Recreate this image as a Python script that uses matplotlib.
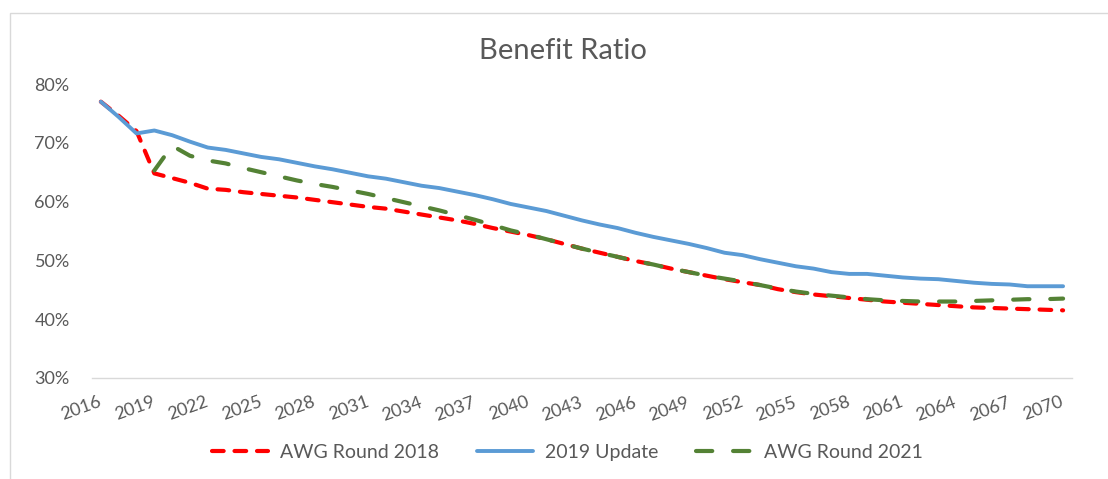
import numpy as np
import matplotlib
matplotlib.use("Agg")
import matplotlib.pyplot as plt
from matplotlib.patches import Rectangle

plt.rcParams['font.family'] = ['Lato', 'DejaVu Sans']

years = list(range(2016, 2071))

# benefit ratio, %
awg_2018 = [77.0, 74.6, 72.0, 64.8, 64.0, 63.2, 62.2, 62.0, 61.6, 61.3,
            61.0, 60.7, 60.3, 59.9, 59.5, 59.1, 58.8, 58.3, 57.8, 57.3,
            56.8, 56.2, 55.5, 54.9, 54.3, 53.6, 52.8, 52.0, 51.3, 50.6,
            49.9, 49.3, 48.6, 48.0, 47.4, 46.8, 46.3, 45.8, 45.1, 44.6,
            44.2, 43.9, 43.6, 43.3, 43.0, 42.8, 42.6, 42.4, 42.2, 42.0,
            41.9, 41.8, 41.7, 41.6, 41.5]

update_2019 = [77.0, 74.4, 71.6, 72.1, 71.3, 70.2, 69.2, 68.8, 68.2, 67.6,
               67.2, 66.6, 66.0, 65.5, 64.9, 64.3, 63.9, 63.3, 62.7, 62.3,
               61.7, 61.1, 60.4, 59.6, 59.0, 58.4, 57.6, 56.8, 56.1, 55.5,
               54.7, 54.0, 53.4, 52.8, 52.1, 51.3, 50.9, 50.2, 49.6, 49.0,
               48.6, 48.0, 47.7, 47.7, 47.4, 47.1, 46.9, 46.8, 46.5, 46.2,
               46.0, 45.9, 45.6, 45.6, 45.6]

awg_2021 = [np.nan, np.nan, np.nan, 65.3, 69.5, 67.8, 67.0, 66.5, 65.7, 65.0,
            64.3, 63.6, 63.0, 62.5, 61.9, 61.3, 60.6, 59.9, 59.2, 58.5,
            57.7, 56.9, 56.0, 55.1, 54.4, 53.6, 52.8, 52.0, 51.3, 50.6,
            49.9, 49.3, 48.6, 48.0, 47.4, 46.9, 46.4, 45.8, 45.2, 44.7,
            44.3, 44.0, 43.7, 43.4, 43.2, 43.1, 43.0, 43.0, 43.0, 43.1,
            43.2, 43.3, 43.4, 43.4, 43.5]

tick_years = years[::3]
grey = '#595959'

fig = plt.figure(figsize=(11.08, 4.79), dpi=100)
ax = fig.add_axes([0.083, 0.211, 0.8845, 0.6135])

x = np.array(years)
ax.plot(x, np.array(awg_2018) / 100, color='#FF0000', lw=3.0,
        linestyle=(0, (2.8, 2.6)), dash_capstyle='round', label='AWG Round 2018')
ax.plot(x, np.array(update_2019) / 100, color='#5B9BD5', lw=2.8,
        solid_capstyle='round', label='2019 Update')
ax.plot(x, np.array(awg_2021) / 100, color='#548235', lw=3.0,
        linestyle=(0, (3.9, 5.0)), dash_capstyle='round', label='AWG Round 2021')

ax.set_xlim(2015.5, 2070.5)
ax.set_ylim(0.30, 0.80)
ax.set_yticks(np.arange(0.30, 0.801, 0.10))
ax.set_yticklabels([f'{int(round(v * 100))}%' for v in np.arange(0.30, 0.801, 0.10)])
ax.set_xticks(tick_years)
ax.set_xticklabels([str(y) for y in tick_years], rotation=20,
                   ha='right', va='center', rotation_mode='anchor')

for s in ['top', 'right', 'left']:
    ax.spines[s].set_visible(False)
ax.spines['bottom'].set_color('#D9D9D9')
ax.spines['bottom'].set_linewidth(1.0)
ax.tick_params(axis='both', length=0, colors=grey, labelsize=13)
ax.tick_params(axis='y', pad=16)
ax.tick_params(axis='x', pad=17)

fig.text(0.508, 0.893, 'Benefit Ratio', ha='center', va='center',
         fontsize=21, color=grey)

fig.legend(loc='center', bbox_to_anchor=(0.512, 0.055), ncol=3, frameon=False,
           fontsize=14, handlelength=2.9, columnspacing=1.95, handletextpad=0.6,
           labelcolor=grey)

# chart-area border (only top/left show in the crop)
fig.patches.append(Rectangle((10 / 1108, -0.1), 1.2, 0.1 + 1 - 13 / 479,
                             transform=fig.transFigure, fill=False,
                             edgecolor='#D9D9D9', lw=1.0))

fig.savefig('out.png', dpi=100)
